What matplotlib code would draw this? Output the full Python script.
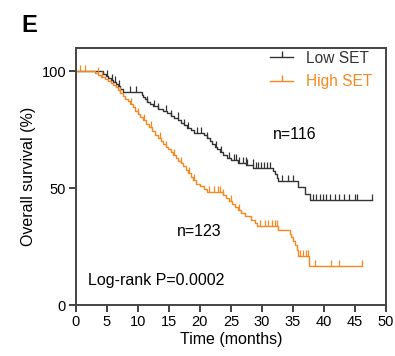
import matplotlib
matplotlib.use("Agg")
import matplotlib.pyplot as plt
import numpy as np
from matplotlib.lines import Line2D

plt.rcParams["font.family"] = ["Liberation Sans", "DejaVu Sans"]

COR_BAIXO = "#333333"
COR_ALTO = "#F5891F"

# Degraus das curvas (tempo em meses, sobrevida em %)
low_t = [0, 4.4, 4.8, 5.2, 5.6, 6.0, 6.4, 6.8, 7.2, 7.6,
         10.6, 10.9, 11.2, 11.5, 11.9, 12.5, 13.3, 14.0, 14.7, 15.3,
         15.9, 16.5, 17.0, 17.5, 18.0, 18.6, 19.1, 20.6, 21.1, 21.6,
         22.0, 22.4, 22.8, 23.3, 23.8, 24.3, 25.0, 26.2, 27.5, 28.6,
         31.8, 32.1, 32.4, 32.6, 35.9, 36.9, 37.7, 47.7]
low_s = [100, 99.1, 98.2, 97.3, 96.4, 95.5, 94.6, 93.7, 92.5, 91.2,
         90.0, 89.0, 88.0, 87.0, 86.0, 85.0, 84.0, 83.0, 82.0, 81.0,
         80.0, 79.0, 78.0, 77.0, 76.0, 75.0, 73.8, 72.6, 71.4, 70.2,
         69.0, 67.8, 66.6, 65.4, 64.2, 63.0, 62.0, 61.0, 59.9, 58.8,
         57.4, 56.0, 54.6, 53.2, 50.5, 47.7, 44.8, 44.8]
low_censura = [5.0, 5.8, 6.3, 7.0, 8.7, 9.7, 11.5, 12.6, 13.3, 14.5,
               15.3, 16.4, 17.5, 18.1, 19.5, 20.2, 21.2, 22.6, 23.4, 24.7,
               25.5, 25.8, 26.3, 26.9, 27.4, 27.6, 28.5, 29.0, 29.4, 29.8,
               30.3, 30.8, 31.3, 33.2, 34.2, 35.0, 38.3, 38.8, 39.4, 39.8,
               40.3, 41.0, 41.8, 42.5, 43.2, 44.1, 45.0, 45.3, 47.7]

high_t = [0, 3.1, 3.6, 4.1, 4.7, 5.2, 5.6, 6.0, 6.4, 6.8,
          7.2, 7.6, 8.0, 8.4, 8.8, 9.2, 9.6, 10.0, 10.4, 10.8,
          11.3, 11.8, 12.3, 12.8, 13.3, 13.7, 14.1, 14.5, 14.9, 15.3,
          15.7, 16.1, 16.5, 16.9, 17.3, 17.7, 18.1, 18.5, 18.9, 19.4,
          20.0, 20.6, 21.2, 23.7, 24.2, 24.7, 25.2, 25.7, 26.2, 26.7,
          27.2, 28.2, 28.9, 29.2, 32.6, 34.5, 34.7, 35.0, 35.3, 35.6,
          35.9, 37.6, 46.2]
high_s = [100, 99.2, 98.4, 97.6, 96.8, 96.0, 95.2, 94.2, 93.2, 92.0,
          90.8, 89.6, 88.4, 87.2, 86.0, 84.6, 83.2, 81.8, 80.4, 79.0,
          77.6, 76.2, 74.6, 73.0, 71.4, 70.2, 69.0, 67.8, 66.6, 65.4,
          64.2, 63.0, 61.8, 60.6, 59.4, 58.0, 56.6, 55.0, 53.4, 52.0,
          50.8, 49.6, 48.3, 47.0, 45.7, 44.4, 43.1, 41.8, 40.5, 39.2,
          38.0, 36.6, 35.2, 33.8, 32.1, 30.5, 29.0, 27.4, 25.7, 23.5,
          21.2, 16.9, 16.9]
high_censura = [0.6, 1.4, 3.5, 4.2, 7.2, 8.9, 10.0, 11.0, 12.2, 13.5,
                14.5, 15.9, 17.0, 18.3, 19.0, 21.5, 22.2, 23.0, 23.3, 23.7,
                25.0, 26.3, 29.7, 30.5, 31.0, 31.6, 32.1, 32.5, 36.1, 36.6,
                37.1, 37.4, 38.5, 41.1, 42.5, 46.2]

x_ticks = list(range(0, 51, 5))
y_ticks = [0, 50, 100]


def valor_na_curva(tempos, sobrevida, instantes):
    idx = np.searchsorted(tempos, instantes, side="right") - 1
    return np.asarray(sobrevida)[idx]


fig = plt.figure(figsize=(3.95, 3.56), dpi=100)
ax = fig.add_axes([0.192, 0.143, 0.785, 0.722])

for tempos, sobrevida, censura, cor in [
    (low_t, low_s, low_censura, COR_BAIXO),
    (high_t, high_s, high_censura, COR_ALTO),
]:
    ax.step(tempos, sobrevida, where="post", color=cor, lw=1.0)
    ax.plot(censura, valor_na_curva(tempos, sobrevida, censura), linestyle="none",
            marker=2, markersize=4, markeredgewidth=0.9, color=cor)

ax.set_xlim(0, 50)
ax.set_ylim(0, 110)
ax.set_xticks(x_ticks)
ax.set_yticks(y_ticks)
ax.tick_params(labelsize=10.5, width=1.3, length=5, color="#333333", pad=2)
for spine in ax.spines.values():
    spine.set_linewidth(1.4)
    spine.set_color("#444444")

ax.set_xlabel("Time (months)", fontsize=11.5, labelpad=2)
ax.set_ylabel("Overall survival (%)", fontsize=11.5, labelpad=4)

ax.text(35.3, 73, "n=116", fontsize=11.5, ha="center", va="center")
ax.text(19.9, 31.4, "n=123", fontsize=11.5, ha="center", va="center")
ax.text(1.9, 10.7, "Log-rank P=0.0002", fontsize=11.5, ha="left", va="center")

handles = [
    Line2D([], [], color=COR_BAIXO, lw=1.0, marker=2, markersize=4),
    Line2D([], [], color=COR_ALTO, lw=1.0, marker=2, markersize=4),
]
leg = ax.legend(handles, ["Low SET", "High SET"], loc="upper left",
                bbox_to_anchor=(0.626, 0.99), frameon=False, fontsize=11.2,
                handlelength=1.5, handletextpad=0.8, labelspacing=0.55,
                borderpad=0, borderaxespad=0, numpoints=1)
for texto, cor in zip(leg.get_texts(), [COR_BAIXO, COR_ALTO]):
    texto.set_color(cor)

fig.text(0.055, 0.927, "E", fontsize=17, fontweight="bold", ha="left", va="center")

fig.savefig("out.png", dpi=100)
